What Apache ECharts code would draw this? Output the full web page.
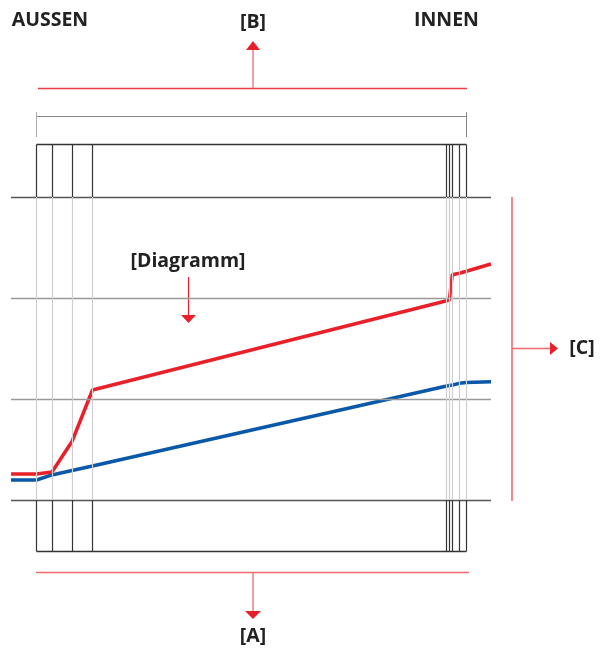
<!DOCTYPE html>
<html>
<head>
<meta charset="utf-8">
<script src="https://cdn.jsdelivr.net/npm/echarts@6/dist/echarts.min.js"></script>
<style>
html,body{margin:0;padding:0;background:#fff;}
#chart{width:600px;height:648px;}
</style>
</head>
<body>
<div id="chart"></div>
<script>
// ---- data ----
const xPoints   = [0, 25.5, 41, 61, 81.5, 435.7, 438.3, 441.3, 448.3, 455.3, 480];
const redValues = [0.257, 0.257, 0.277, 0.579, 1.089, 1.973, 1.98, 2.23, 2.245, 2.265, 2.337];
const blueValues= [0.198, 0.198, 0.248, 0.292, 0.337, 1.129, 1.134, 1.139, 1.155, 1.163, 1.171];
const layerBounds = [25.5, 41, 61, 81.5, 435.7, 438.3, 441.3, 448.3, 455.3];
const gridLevels = [0, 1, 2, 3];
const gridLevelColors = ['#555', '#999', '#999', '#555'];
const xMin = 0, xMax = 480;
const yMin = -0.55, yMax = 4.0;
const boxTop = 3.52, boxBottom = -0.51;
const dimY = 3.795, dimTickTop = 3.842, dimTickBottom = 3.594;
const labels = { outside: 'AUSSEN', inside: 'INNEN', a: '[A]', b: '[B]', c: '[C]', diagram: '[Diagramm]' };

// ---- layout ----
const PX = 101;           // pixels per y unit
const zeroY = 500;
const gridTop = zeroY - yMax * PX;
const gridBottom = 648 - (zeroY - yMin * PX);

const seg = (x1, y1, x2, y2, color, width) => [
  { coord: [x1, y1], lineStyle: { color: color, width: width, type: 'solid' } },
  { coord: [x2, y2] }
];

const structure = [];
gridLevels.forEach((v, i) => structure.push(seg(xMin, v, xMax, v, gridLevelColors[i], 1.3)));
layerBounds.forEach(x => {
  structure.push(seg(x, gridLevels[0], x, gridLevels[3], '#cfcfcf', 1.2));
  structure.push(seg(x, gridLevels[3], x, boxTop, '#333', 1.2));
  structure.push(seg(x, boxBottom, x, gridLevels[0], '#333', 1.2));
});
const lb0 = layerBounds[0], lbN = layerBounds[layerBounds.length - 1];
structure.push(seg(lb0, boxTop, lbN, boxTop, '#333', 1.3));
structure.push(seg(lb0, boxBottom, lbN, boxBottom, '#333', 1.3));
structure.push(seg(lb0, dimY, lbN, dimY, '#888', 1.2));
structure.push(seg(lb0, dimTickTop, lb0, dimTickBottom, '#aaa', 1));
structure.push(seg(lbN, dimTickTop, lbN, dimTickBottom, '#888', 1));

const chart = echarts.init(document.getElementById('chart'), null, { renderer: 'canvas' });
const RED = '#e8202a', BLUE = '#0a58a8', ANN = '#f06a70';
const font = '"Open Sans", "DejaVu Sans", sans-serif';
const txt = (t, x, y, size) => ({
  type: 'text', style: { text: t, x: x, y: y, fill: '#222', font: 'bold ' + size + 'px ' + font, textAlign: 'center', textVerticalAlign: 'middle' }
});
const line = (x1, y1, x2, y2, color, w) => ({ type: 'line', shape: { x1, y1, x2, y2 }, style: { stroke: color, lineWidth: w } });
const tri = (pts) => ({ type: 'polygon', shape: { points: pts }, style: { fill: RED } });

chart.setOption({
  animation: false,
  grid: { left: 11, right: 109, top: gridTop, bottom: gridBottom },
  xAxis: { type: 'value', min: xMin, max: xMax, show: false },
  yAxis: { type: 'value', min: yMin, max: yMax, show: false },
  series: [
    {
      type: 'line', data: [], silent: true,
      markLine: { silent: true, symbol: ['none', 'none'], label: { show: false }, animation: false, data: structure }
    },
    {
      name: 'blue', type: 'line', showSymbol: false, symbol: 'none',
      data: xPoints.map((x, i) => [x, blueValues[i]]),
      lineStyle: { color: BLUE, width: 3.5 }, z: 3
    },
    {
      name: 'red', type: 'line', showSymbol: false, symbol: 'none',
      data: xPoints.map((x, i) => [x, redValues[i]]),
      lineStyle: { color: RED, width: 3.5 }, z: 4
    }
  ],
  graphic: [
    txt(labels.outside, 50, 20, 19.5),
    txt(labels.inside, 446.5, 20, 19.5),
    txt(labels.b, 253, 22, 19.5),
    txt(labels.a, 253, 636, 19.5),
    txt(labels.c, 582, 348, 19.5),
    txt(labels.diagram, 188, 261, 19.5),
    line(38, 88.5, 467, 88.5, '#ee3b42', 1.3),
    line(253, 88, 253, 50, ANN, 1.3),
    tri([[253, 41], [246, 50], [260, 50]]),
    line(36, 572.5, 469, 572.5, ANN, 1.4),
    line(253, 572, 253, 612, ANN, 1.3),
    tri([[253, 619], [245, 611], [261, 611]]),
    line(512, 197, 512, 501, ANN, 1.6),
    line(512, 348.5, 551, 348.5, ANN, 1.3),
    tri([[558, 348.5], [550, 342], [550, 355]]),
    line(188.5, 277, 188.5, 316, RED, 1.2),
    tri([[188.5, 323], [181, 315], [196, 315]])
  ]
});
</script>
</body>
</html>
